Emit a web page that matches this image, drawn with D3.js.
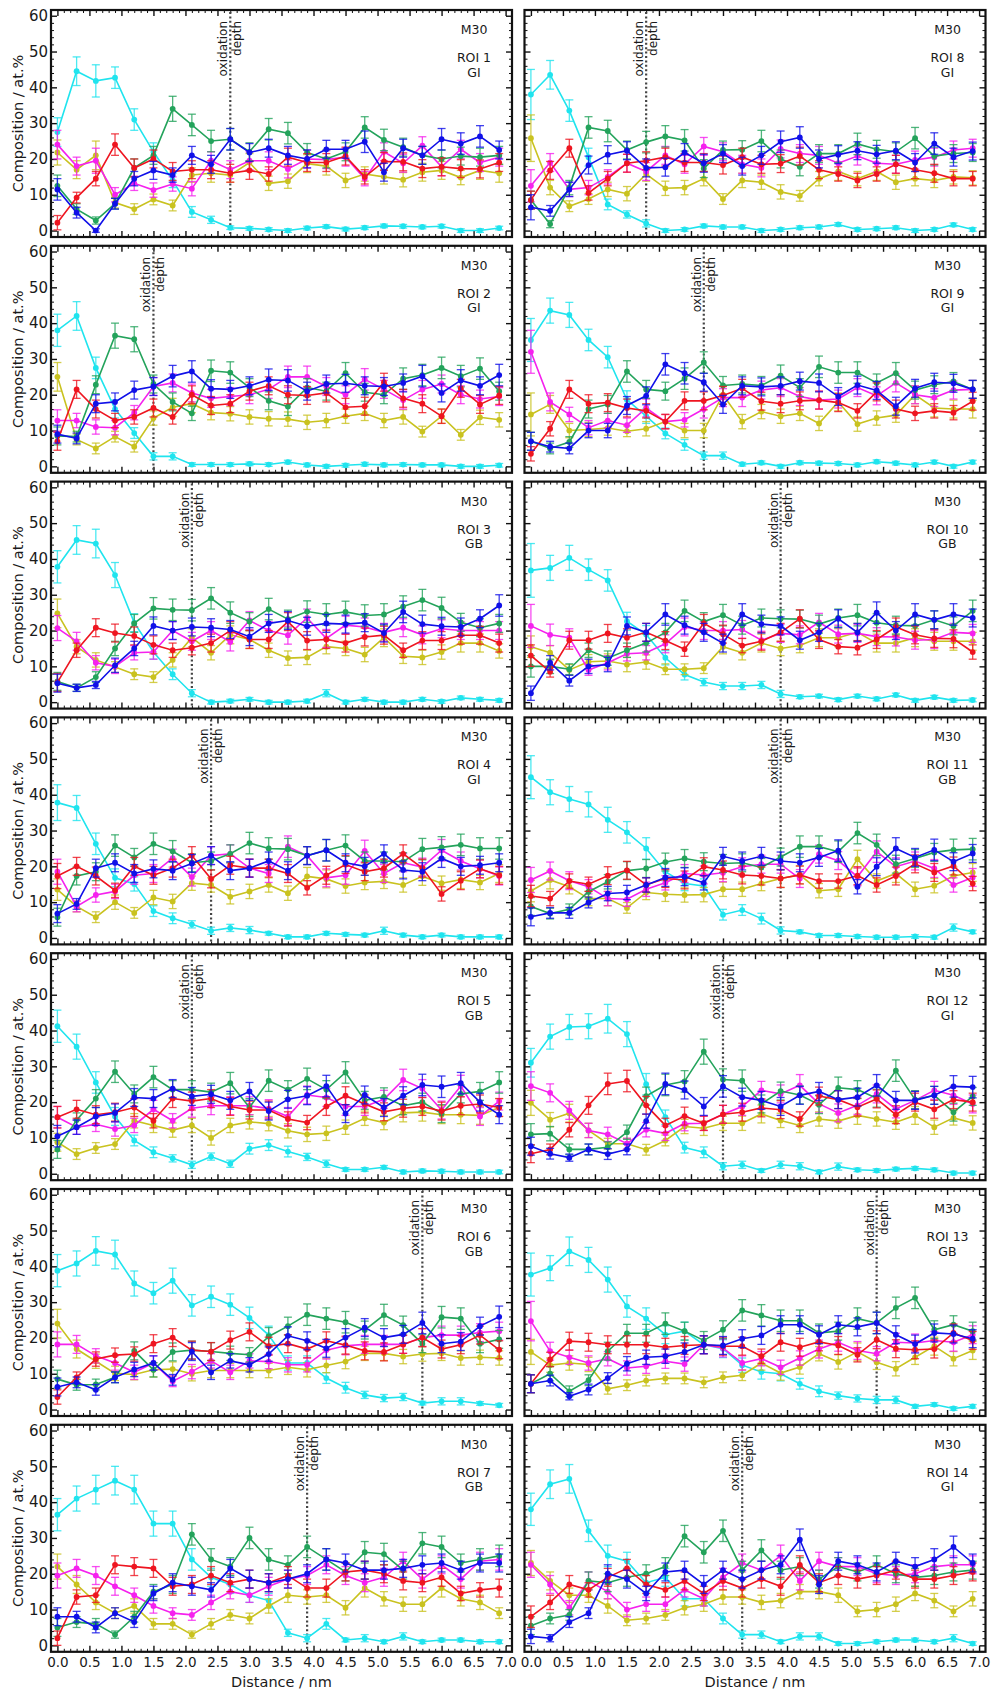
<!DOCTYPE html>
<html>
<head>
<meta charset="utf-8">
<script src="https://cdn.jsdelivr.net/npm/d3@7"></script>
<style>
  body { margin: 0; background: #fff; }
  svg { display: block; }
  text { font-family: "DejaVu Sans", sans-serif; fill: #1a1a1a; }
</style>
</head>
<body>
<svg id="chart" width="992" height="1693"></svg>
<script>
// Distance bins (nm) shared by every profile
const distance = [0,0.3,0.6,0.9,1.2,1.5,1.8,2.1,2.4,2.7,3.0,3.3,3.6,3.9,4.2,4.5,4.8,5.1,5.4,5.7,6.0,6.3,6.6,6.9];

const roiNames = ["ROI 1","ROI 2","ROI 3","ROI 4","ROI 5","ROI 6","ROI 7","ROI 8","ROI 9","ROI 10","ROI 11","ROI 12","ROI 13","ROI 14"];
const roiType = ["GI","GI","GB","GI","GB","GB","GB","GI","GI","GB","GB","GI","GB","GI"];
const sampleName = "M30";
const oxidationDepth = [2.7,1.5,2.1,2.4,2.1,5.7,3.9,1.8,2.7,3.9,3.9,3.0,5.4,3.3];

const xTicks = [0,0.5,1,1.5,2,2.5,3,3.5,4,4.5,5,5.5,6,6.5,7];
const yTicks = [0,10,20,30,40,50,60];

// Composition (at.%) per ROI, one row per ROI 1..14
const cyanPct = [
 [27.5,44.5,41.8,42.7,31,22,14,5.2,3,0.8,0.6,0.3,0,0.7,1.1,0.4,0.8,1.3,1.2,1,1.2,0,0,0.7],
 [38,42,27.5,16,9.3,2.8,2.8,0.5,0.5,0.5,0.7,0.5,1.2,0.4,0,0.3,0.6,0.4,0.5,0.4,0.4,0,0,0.3],
 [37.8,45.3,44.3,35.5,22.2,14,7.8,2.5,0,0.3,0.8,0,0,0.3,2.5,0,0.8,0,0,0.8,0.2,1.2,0.8,0.5],
 [37.8,36.3,26.3,16.8,15.1,7.5,5.5,3.8,2,2.8,2.2,1.3,0.3,0.3,1.3,1,0.8,2,0.8,0.3,0.8,0.3,0.3,0.3],
 [41.2,35.5,25.5,16,9.3,6,4.3,2.5,4.8,2.8,7,8,6.2,4.7,2.8,1.2,1.2,1.8,0.5,0.8,0.7,0.5,0.5,0.5],
 [38.8,40.8,44.3,43.3,35.2,32.5,36,29.1,31.5,29.3,25.6,20.8,13,13,8.8,6.1,4.1,3.2,3.5,1.8,2.3,2.3,1.7,1.2],
 [36.5,41,43.5,46,43.5,34,34,24,19,17,14,12.5,3.5,2,6,1.5,2,1,2.5,1,1.5,1.5,1,1],
 [38,43.5,33.5,20.5,7.3,4.5,2,0,0.3,1.3,1,1,0,0.3,0.8,1,1.7,0.3,0.5,0.8,0,0.3,1.6,0.3],
 [35.3,43.5,42.3,35.3,30.5,18.6,14,9.2,6,3,3,0.6,1,0,1,0.9,0.8,0.4,1.3,0.9,0.4,1.2,0,1.2],
 [36.8,37.5,40.3,37,34,22.6,18.9,12.4,7.7,5.6,4.5,4.5,4.8,2.3,1.5,1.7,0.7,1.7,0.9,2,0.5,1.4,0.5,0.6],
 [44.9,40.7,38.8,37.3,33,29.5,25,18.5,15.2,14.5,6.5,7.8,5.4,2.1,1.7,0.7,0.7,0.4,0.2,0.2,0.4,0.2,2.9,1.7],
 [31,38.3,41,41.2,43.3,39,25,15.8,7.3,6,2.1,2.5,0.9,2.5,2.1,0.5,2,1.1,0.9,1.3,1.5,1.1,0.2,0.2],
 [37.7,39.5,44.2,41.8,36.3,28.8,25.4,20.9,21.9,18.1,17,12.4,10.5,10,7.2,5.1,3.9,3.1,2.7,2.7,0.9,1.4,0.3,0.9],
 [38,45,46.5,32,25,23.5,17.5,19,13,13,7.5,3,3,1,2.5,2.5,0.5,0.5,1,1.5,1.5,1,2,0.5]
];
const greenPct = [
 [12.5,6,2.8,7.5,17.5,21,34,29.5,25,25.5,22,28.3,27.2,21.8,20,22,28.8,25.3,23.3,21,20,20.8,20.5,21],
 [8.5,8.3,22.8,36.5,35.5,23,18,14.8,26.7,26.2,22,18.3,16.7,22,21,26,20.7,20,24.5,25.5,27.5,25.2,27.3,21],
 [5.8,4,7,15,22,26.2,25.8,25.7,29,25,22.5,26,23.2,25.3,24.5,25.2,24.2,24.5,26.7,28.5,26.3,22.3,20.8,22],
 [5.8,17.3,18.5,25.8,22.5,26.3,24.2,21,21.5,23.5,26.5,25,24.8,23,24.5,25.8,21.5,21.5,21.3,24.8,25.3,26,25,25],
 [6.8,15,21,28.5,22.3,27,23.5,23.5,22.8,25.3,18.5,26,23.5,26.5,23.5,28.3,20.5,21.5,19,20,16.8,22.3,23,25.5],
 [8.5,6.9,7,9,16.4,11.1,16.1,16.6,16.2,15.7,15.3,20.4,23.3,26.5,25.4,24.4,22.2,26.4,23.6,18.4,25.8,25.4,18.4,19.6],
 [5,6.5,6,3,8,15,17,31,24,22,30,24,22.5,27.5,24,20.5,26,25.5,21,28.5,27.5,23,24,25],
 [8.5,1.8,12,28.8,27.8,22.5,24.7,26.3,25.2,17.3,22.5,22.6,25,20,17.8,21.5,21.5,24.2,22.7,22,25.8,20.8,21.5,21.8],
 [7,5,6.8,16,17.3,26.5,21.5,21,24.5,29,22.6,23,22.6,25.3,22,27.8,26.2,26.2,23.3,26,21.3,22.8,23.7,21.5],
 [10,10,9.2,14.5,12.3,14.5,16.5,19.5,25.5,22.5,24.3,21.5,23.5,23.3,23.2,21.8,23.5,24.3,22.2,21.5,21.3,23,21.3,25.5],
 [8.8,6.8,8,12.9,15.7,18.8,19.4,21.2,22.2,21.3,20.8,21,19.7,22.6,25.5,25.5,24.1,29.3,26,20.6,22.2,23.9,24.6,24.8],
 [11,11.2,6.8,6.8,7.4,11.6,21.7,24.8,25.8,34.1,26.3,26,19.5,23.1,22,19.3,24,23.5,21.1,28.8,20.7,21.9,17.2,21.6],
 [7.2,10,5.1,8.2,16.3,21.3,21.3,24,21.9,19.3,22.3,27.7,26.3,24.8,24.8,21.4,21.9,25.4,24.2,28.4,31.2,22.3,23.7,21.9],
 [5.5,7.5,8.5,18,17.5,19,20,22,30.5,26,32,21,26.5,21,22,18.5,22,20.5,22.5,20,19,19.5,20.5,21]
];
const bluePct = [
 [11.5,5,0,7.5,14.5,16.8,15.5,21,18.5,25.5,21.8,23,21,20,22.7,22.7,24.8,16.3,23,21,25.5,24.3,26.3,22.5],
 [9,7.8,17.5,18,21.3,22.3,25.2,26.5,21.7,21.5,22.5,24.2,24,21,23,23.2,22.5,22.3,23.3,25.2,20.5,24,22.5,25.5],
 [5.3,4,4.8,10.3,15,21.3,20,21,20.8,20.3,18.3,22,22.8,21.2,22,21.8,22.2,19.3,25.2,21.8,21.2,21,23.3,27],
 [6.8,9.5,19.5,21,18,19.3,18.8,20.8,23,18.8,19.5,21.5,18.8,23,24.5,21,20,23.5,19,18.5,22.2,20,20.3,21],
 [10.5,13,16,17,21.3,21,23.8,21.6,22.2,20.5,23,17.5,20.8,21.8,24.5,16.8,22,18.5,21.8,24.8,24.3,25.3,20,16.5],
 [6.3,7.6,5.5,9,11.2,13,8.3,16.2,10.4,13.6,12.5,15.5,20.6,19.2,17.1,20.1,22.9,20.1,21,24.2,18.4,19,23.3,25.9],
 [8,8,5,9,6.5,14.5,17.5,16.5,15.5,21.5,18.5,17.5,18.5,20,24,23,21,21,21.5,22.5,23,21,23,23],
 [6.5,5.5,11.5,18.3,21.2,22.3,17.5,17.7,21.8,18.8,21.5,18,21,24.8,26,20,21.2,22.3,21.3,22.3,19,24.3,20.5,22.2],
 [7,5.5,5,10,10,17,19.7,28.5,26,23.5,17.3,22.5,22.2,22.5,23.8,23.3,19.5,22.7,21.2,16.8,21.8,23.5,23.2,21.5],
 [2.5,11,6,10,10.5,21.3,19.5,24.5,21.5,19.5,16.5,24.5,21.8,21.3,17.3,19.5,23.3,19.5,25,20,24.5,23,24.5,23.5],
 [5.9,7,7,9.9,12.4,12.7,14.8,16.9,17.1,15.4,22.8,21.5,22.8,21.5,21,22.5,24.4,14.3,19.9,25,22.5,24.6,21.3,23.6],
 [7.7,5.6,4.5,6.8,5.5,6.8,14.7,25.1,23.4,18.8,24.4,21.4,20.5,18.8,21.9,23,20.7,21.4,24.7,20.5,20.5,21.9,24.4,24.2],
 [7.2,8.1,3.7,5.6,8.8,12.8,14.6,14.9,16.1,18.1,17.9,19.8,20.7,23.7,23.7,20.9,23.7,23.1,24.2,20.9,18.3,21.4,21.1,19.8],
 [2.5,2,6.5,9,20,18.5,14.5,20.5,21,17,21,18.5,21,22.5,29.5,17,23.5,22.5,20.5,23.5,22,24,27.5,23]
];
const redPct = [
 [2.2,9.2,14.5,24,17.5,20,16.5,17,17,16,16.8,15.8,20.5,19,19,20.8,15,19.3,19.2,17.3,17.8,17.3,17.2,19],
 [7,21.5,16,12.8,13.8,16.3,13.8,20,17,17.5,21,22.5,20,19.8,20.5,16.5,16.8,23.5,19,17.5,14,21.8,17.3,19.8],
 [5.5,14.5,20.8,19.3,18.5,16,14.5,15.2,16.5,20,17.5,17.5,22.5,17.2,17.5,16.5,18.2,18.7,14.5,17.2,17.2,18.7,18.7,16.5],
 [17.3,20,17.3,13.3,20,17.5,19.5,23,16.5,20.3,19.5,19.5,18,14,17.5,20.5,18.5,19.5,23.5,19.5,12.3,16,19.3,17.5],
 [15.8,18,16.5,17.2,18.5,14.8,21,20.3,21,18.8,17.8,17.8,15.3,14.3,18.8,21.8,19.5,17.3,18.3,18.8,17.5,19,19.5,18.5],
 [3.5,9,14.1,15.2,15.5,18.4,20.1,16.6,16.2,19.4,21.7,17.7,18.4,16.9,19.2,18,16.4,16.1,18.2,20.1,16.9,18.1,20.8,16.7],
 [2,13.5,14,22.5,22,21.5,16.5,17,19.5,17.5,18.5,17.5,19.5,16,16,20.5,21,20,18,17.5,19,14.5,15.5,16],
 [8.5,16.8,23,10.5,14.5,18.8,19.5,20.5,19,19,18.3,20.5,18.5,18.7,20.8,17,15.8,14,15.8,18.5,17,16,14.5,14.5],
 [3.5,10.5,21.5,17.5,17.8,16.3,15.5,12.5,18.3,18.3,19.8,21.8,18.2,17.5,18.3,18.5,17.8,15.5,20.8,16,14.8,15.5,15,18.2],
 [13,8.5,17.3,17.3,19.2,18,19.5,17.2,14.8,22,19,15.8,17,19.5,23.3,17.5,15.5,15.2,17.5,21,18.8,17.8,17.7,14],
 [11.7,11,15.9,15,17.4,18.9,14.8,16.6,16.2,19.9,19,17.6,17.3,16.6,17.6,15.9,15.9,17.4,14.8,17.3,20.7,18.3,20.1,15.2],
 [5.6,6.8,12.3,19.1,25.1,25.9,19.1,13.5,16.1,14.1,16.6,17.2,18.4,17.9,15.3,21.7,20.7,18.6,20.9,16.5,20,18,20.7,20],
 [7.2,14,19.1,18.8,18.1,18.1,18.1,17.4,17.9,18.1,17.7,17.7,14.9,18.8,17.4,18.9,17.9,15.3,19.5,17,16.7,16.9,21.4,19.3],
 [8,12,17,15.5,19,21.5,17,15.5,18,14.5,18,16,18.5,16.5,22.5,17.5,19.5,18.5,19.5,21,18.5,18.5,19.5,20.5]
];
const magentaPct = [
 [24,18,19.5,10,13.2,11.3,13,11.7,19.5,17,19.5,19.5,17.2,20,19.8,20.5,14.5,22,18.8,23.7,17.8,22.7,19,20.5],
 [12.8,12.8,11,10.8,15,22.3,23.3,20.5,19,19.5,20,21.5,25,25,22.3,20,24.3,21.5,18.5,21.5,23,20,18.8,19.5],
 [20.7,17,11,10,13.8,14,20,17,20,16.8,22.8,20,18.7,23.5,17.8,21.5,21,19.5,20.8,18.8,20.5,20,20,20],
 [18.5,8.8,12,13,17.5,18,22.3,17,23,23.5,19.5,18,25.5,23,16.8,17.5,24.3,18,21,19.8,24.5,21.5,19.3,17.3],
 [15.8,13,13.8,12.5,13.5,18,14.8,18.3,19,19,19,18.2,16,22,21.3,18.8,18.8,20.8,26.2,23.8,17.8,24.5,16,20.3],
 [18.2,18.2,15,13,10.4,13,7.9,10.6,13.6,10.4,13.6,13.4,12.5,12.5,16.6,17.8,18.2,18.2,18.2,20.1,20.8,20.8,21.5,21.9],
 [19.5,21.5,19.5,16.5,14,11,9,8.5,12,15,14,16.5,18.5,19.5,22.5,19.5,17.5,19,23.5,18.5,22.5,18.5,23.5,24],
 [12.5,19,11.5,12,15,18.8,16.5,21,18.5,23.5,22,18.5,17.5,22.8,21.5,21,18.8,20.8,18.8,18.5,19.7,20.5,22.5,23],
 [32,18,14.5,10.8,12.8,11.5,16.3,12.5,13,16,19.2,19.2,21.3,22,19.5,18.5,18.8,22,19.7,23.3,20,19.2,21.3,21.5],
 [21.3,18.8,18,9,11,13.5,13.8,16.3,21,20,20,20.3,17.3,19.2,18.8,22.3,19,19.2,18.3,18.2,17.3,17.5,19.5,19.2],
 [16.2,18.7,16,14.3,11,10.8,13.6,15.4,18,17.6,18.2,19.9,20.6,20.6,16.6,23.4,21.6,17.1,24.1,19.9,21.5,19.4,14.8,16.9],
 [24.5,22.6,17.7,12.1,11,8.4,12.3,11.3,14,14.1,16.6,18.8,23.3,22.3,24.7,19.5,17,19.1,22.3,18.1,20.5,23.3,21.9,19.5],
 [24.7,16.3,14.6,13,14.2,11.6,12.1,13.5,12.7,18.1,17.2,13,14.2,11.8,14.4,16.9,18.8,16.5,15.6,18.8,18.6,19.3,18.8,20.9],
 [22.5,17,10.5,18,15,10,11.5,11.5,15.5,13,19,23,21,25,18,23.5,22,22,20,19.5,20,22,22.5,22.5]
];
const yellowPct = [
 [21.8,17,21,7.8,6,8.7,7,15.5,16,15.5,19,13.2,13.8,18.7,18,14,15.8,15,14.2,16.3,16.8,14.8,16.8,16],
 [25,7.5,5,8.3,5.5,13.5,16.5,17.5,15,14.7,13.8,13.3,13.2,12.3,12.8,14,14.8,12.8,13.8,9.7,14,8.8,13.7,13],
 [24.8,15.5,11.8,9.8,7.8,7,11.8,18,13.8,18.8,17.5,14.5,12.3,12.5,15.5,15,13.3,18,12.8,12.5,14,16.5,16.5,14.3],
 [13.5,8.8,5.8,10,7,11.3,10.2,15.3,14.8,11.5,13,14.8,12.5,17.2,16.5,14.5,15.5,15.8,14.8,17.2,15.3,16.3,15.5,18],
 [8.8,5.5,7.2,8.3,14.8,13.5,12.2,13.5,10,13.5,14.5,14,12,11,11.3,13,15.5,14.3,17,17.2,16.5,16.5,16.3,18.5],
 [24,16.9,13.5,10.1,9.8,11.1,11.3,10,10.9,10.9,10.9,10.9,11.8,11.1,12.3,13.4,15.7,15.7,14.8,15.5,15.7,14.4,14.6,14.4],
 [22,17,12,9,11,6,6,3,6,8.5,7.5,11,14,13.5,14,10.5,16,13,11.5,11.5,16,13,12,9],
 [25.8,12,6.8,8.8,11.5,10.3,15.8,11.8,12,14.5,8.8,14,13.5,10.8,9.7,14.5,16.5,14.5,16.5,13.5,14.5,14,15,14.7],
 [14.5,17.3,10,10.3,10.7,9.8,10.5,12.5,10,10,20,12.5,15.3,14,14.8,12,18,11.8,13.5,14.3,20,16.3,16,16],
 [15.5,13.8,9,11.3,11.5,10.5,11.2,9.2,9.2,9.5,15.5,13.8,16.5,15,15.8,18,18,19.5,16.5,16.5,18,17,17,17],
 [13.1,16.2,14.3,11,11,8.4,12.7,12.2,12,12.1,13.6,13.6,15.2,16.6,17.6,13.2,13.6,22,15.9,18,13.6,14.6,17.3,18.3],
 [19.8,15.1,16.9,12.1,8.4,8.4,6.7,9.3,13.2,12.7,14.1,14.1,16.7,14.9,13.5,15.3,14.7,16.3,15.3,14.4,16.3,13,15.6,14.2],
 [16.1,12.4,13,12.6,5.8,6.8,8.1,8.7,8.7,7.6,9,9.6,13,10.2,11.9,15.6,13.3,16.1,13.2,11.4,14.6,17.7,14.2,16.5],
 [23,18,14,14,11,7,7.5,8.5,10.5,11.5,13.5,13.5,12,12.5,15,15,14,9.5,10,11.5,14.5,12.5,9.5,13]
];

// Error-bar half widths (at.%), same layout as above
const cyanErr = [
 [4,4,4.5,3,3,2.5,2,1.5,1,.5,.5,.5,.5,.5,.5,.5,.5,.5,.5,.5,.5,.5,.5,.5],
 [4.5,4,3,2.5,1.5,1,1,.5,.5,.5,.5,.5,.5,.5,.5,.5,.5,.5,.5,.5,.5,.5,.5,.5],
 [4.5,4,4,3.5,2.5,2,1.5,1,.5,.5,.5,.5,.5,.5,1,.5,.5,.5,.5,.5,.5,.5,.5,.5],
 [5,3.5,3,2.5,2,1.5,1.5,1,1,1,1,.5,.5,.5,.5,.5,.5,1,.5,.5,.5,.5,.5,.5],
 [4.5,3.5,3,2.5,1.5,1.5,1,1,1,1,1.5,1.5,1.5,1,1,.5,.5,.5,.5,.5,.5,.5,.5,.5],
 [4.5,3.5,4,4,3.5,3,3.5,3,3,3,3,2.5,2,2,1.5,1.5,1,1,1,.5,1,1,.5,.5],
 [4.5,3.5,4,4,4,3.5,3.5,3,2.5,2.5,2,2,1,1,1.5,.5,1,.5,1,.5,.5,.5,.5,.5],
 [7,4,3,2.5,1.5,1,1,.5,.5,.5,.5,.5,.5,.5,.5,.5,.5,.5,.5,.5,.5,.5,.5,.5],
 [6,3.5,3.5,3,3,2.5,2,1.5,1.5,1,1,.5,.5,.5,.5,.5,.5,.5,.5,.5,.5,.5,.5,.5],
 [7.5,3.5,3.5,3,3,2.5,2.5,2,1.5,1,1,1,1,1,.5,.5,.5,.5,.5,.5,.5,.5,.5,.5],
 [6,3.5,3.5,3.5,3.5,3,3,2.5,2,2,1.5,1.5,1.5,1,.5,.5,.5,.5,.5,.5,.5,.5,1,.5],
 [4,3.5,3.5,3.5,4,3.5,3,2,1.5,1.5,1,1,.5,1,1,.5,1,.5,.5,.5,.5,.5,.5,.5],
 [6,3.5,4,3.5,3.5,3,3,2.5,2.5,2.5,2.5,2,2,2,1.5,1.5,1,1,1,1,.5,.5,.5,.5],
 [4.5,4,4,3,3,2.5,2.5,2.5,2,2,1.5,1,1,.5,1,1,.5,.5,.5,.5,.5,.5,1,.5]
];
const greenErr = [
 [3,1.5,1,1.5,2.5,2.5,3.5,3,3,3,2.5,3,3,2.5,2.5,2.5,3,3,2.5,2.5,2.5,2.5,2.5,2.5],
 [2.5,1.5,2.5,3.5,3.5,2.5,2.5,2,3,3,2.5,2.5,2.5,2.5,2.5,3,2.5,2.5,3,3,3,3,3,2.5],
 [2.5,1,1.5,2,2.5,3,3,3,3,3,2.5,3,2.5,3,3,3,3,3,3,3,3,2.5,2.5,2.5],
 [2.5,2.5,2.5,3,2.5,3,3,2.5,2.5,2.5,3,3,3,2.5,3,3,2.5,2.5,2.5,3,3,3,3,3],
 [2.5,2,2.5,3,2.5,3,2.5,2.5,2.5,3,2.5,3,2.5,3,2.5,3,2.5,2.5,2.5,2.5,2.5,2.5,2.5,3],
 [2.5,1.5,1.5,1.5,2.5,2,2.5,2.5,2.5,2,2,2.5,2.5,3,3,3,2.5,3,2.5,2.5,3,3,2.5,2.5],
 [2.5,1.5,1.5,1,1.5,2,2.5,3,3,2.5,3,3,2.5,3,3,2.5,3,3,2.5,3,3,2.5,3,3],
 [2.5,1,2,3,3,2.5,3,3,3,2.5,2.5,2.5,3,2.5,2.5,2.5,2.5,3,2.5,2.5,3,2.5,2.5,2.5],
 [2.5,1.5,1.5,2.5,2.5,3,2.5,2.5,3,3,2.5,2.5,2.5,3,2.5,3,3,3,2.5,3,2.5,2.5,2.5,2.5],
 [3,2,1.5,2,2,2,2.5,2.5,3,2.5,3,2.5,2.5,2.5,2.5,2.5,2.5,3,2.5,2.5,2.5,2.5,2.5,3],
 [2.5,1.5,1.5,2,2,2.5,2.5,2.5,2.5,2.5,2.5,2.5,2.5,2.5,3,3,3,3,3,2.5,2.5,2.5,3,3],
 [3,2,1.5,1.5,1.5,2,2.5,3,3,3.5,3,3,2.5,2.5,2.5,2.5,3,2.5,2.5,3,2.5,2.5,2.5,2.5],
 [2.5,2,1.5,1.5,2.5,2.5,2.5,3,2.5,2.5,2.5,3,3,3,3,2.5,2.5,3,3,3,3,2.5,2.5,2.5],
 [2.5,1.5,1.5,2.5,2.5,2.5,2.5,2.5,3,3,3,2.5,3,2.5,2.5,2.5,2.5,2.5,2.5,2.5,2.5,2.5,2.5,2.5]
];
const blueErr = [
 [3,1.5,.5,1.5,2,2.5,2,2.5,2.5,3,2.5,2.5,2.5,2.5,2.5,2.5,3,2.5,2.5,2.5,3,3,3,2.5],
 [2.5,1.5,2.5,2.5,2.5,2.5,3,3,2.5,2.5,2.5,3,3,2.5,2.5,2.5,2.5,2.5,2.5,3,2.5,3,2.5,3],
 [2.5,1,1,2,2,2.5,2.5,2.5,2.5,2.5,2.5,2.5,2.5,2.5,2.5,2.5,2.5,2.5,3,2.5,2.5,2.5,2.5,3],
 [2.5,1.5,2.5,2.5,2.5,2.5,2.5,2.5,2.5,2.5,2.5,2.5,2.5,2.5,3,2.5,2.5,2.5,2.5,2.5,2.5,2.5,2.5,2.5],
 [3,2,2.5,2.5,2.5,2.5,2.5,2.5,2.5,2.5,2.5,2.5,2.5,2.5,3,2.5,2.5,2.5,2.5,3,3,3,2.5,2.5],
 [2.5,1.5,1.5,1.5,2,2,1.5,2.5,2,2,2,2,2.5,2.5,2.5,2.5,2.5,2.5,2.5,3,2.5,2.5,2.5,3],
 [2.5,1.5,1.5,1.5,1.5,2,2.5,2.5,2,2.5,2.5,2.5,2.5,2.5,3,2.5,2.5,2.5,2.5,2.5,2.5,2.5,2.5,2.5],
 [3.5,1.5,2,2.5,2.5,2.5,2.5,2.5,2.5,2.5,2.5,2.5,2.5,3,3,2.5,2.5,2.5,2.5,2.5,2.5,3,2.5,2.5],
 [2.5,1.5,1.5,2,2,2.5,2.5,3,3,2.5,2.5,2.5,2.5,2.5,2.5,2.5,2.5,2.5,2.5,2.5,2.5,2.5,2.5,2.5],
 [2,2,1.5,2,2,2.5,2.5,3,2.5,2.5,2.5,3,2.5,2.5,2.5,2.5,2.5,2.5,3,2.5,3,2.5,3,2.5],
 [2.5,1.5,1.5,1.5,2,2,2,2.5,2.5,2,2.5,2.5,2.5,2.5,2.5,2.5,3,2,2.5,3,2.5,3,2.5,2.5],
 [2.5,1.5,1,1.5,1.5,1.5,2,3,2.5,2.5,3,2.5,2.5,2.5,2.5,2.5,2.5,2.5,3,2.5,2.5,2.5,3,3],
 [2.5,1.5,1,1.5,1.5,2,2,2,2.5,2.5,2.5,2.5,2.5,2.5,2.5,2.5,2.5,2.5,3,2.5,2.5,2.5,2.5,2.5],
 [2,1,1.5,1.5,2.5,2.5,2,2.5,2.5,2.5,2.5,2.5,2.5,2.5,3,2.5,2.5,2.5,2.5,2.5,2.5,3,3,2.5]
];
const redErr = [
 [2,1.5,2,3,2.5,2.5,2.5,2.5,2.5,2.5,2.5,2,2.5,2.5,2.5,2.5,2,2.5,2.5,2.5,2.5,2.5,2.5,2.5],
 [2.5,2.5,2.5,2,2,2.5,2,2.5,2.5,2.5,2.5,2.5,2.5,2.5,2.5,2.5,2.5,2.5,2.5,2.5,2,2.5,2.5,2.5],
 [2.5,2,2.5,2.5,2.5,2.5,2,2,2.5,2.5,2.5,2.5,2.5,2.5,2.5,2.5,2.5,2.5,2,2.5,2.5,2.5,2.5,2.5],
 [3.5,2.5,2.5,2,2.5,2.5,2.5,2.5,2.5,2.5,2.5,2.5,2.5,2,2.5,2.5,2.5,2.5,2.5,2.5,2,2.5,2.5,2.5],
 [3,2.5,2.5,2.5,2.5,2,2.5,2.5,2.5,2.5,2.5,2.5,2,2,2.5,2.5,2.5,2.5,2.5,2.5,2.5,2.5,2.5,2.5],
 [2,1.5,2,2,2,2.5,2.5,2.5,2.5,2.5,2.5,2.5,2.5,2.5,2.5,2.5,2.5,2.5,2.5,2.5,2.5,2.5,2.5,2.5],
 [2,2,2,2.5,2.5,2.5,2.5,2.5,2.5,2.5,2.5,2.5,2.5,2.5,2.5,2.5,2.5,2.5,2.5,2.5,2.5,2,2,2.5],
 [2.5,2.5,2.5,2,2,2.5,2.5,2.5,2.5,2.5,2.5,2.5,2.5,2.5,2.5,2.5,2,2,2,2.5,2.5,2.5,2,2],
 [2,2,2.5,2.5,2.5,2.5,2,2,2.5,2.5,2.5,2.5,2.5,2.5,2.5,2.5,2.5,2,2.5,2.5,2,2,2,2.5],
 [3,1.5,2.5,2.5,2.5,2.5,2.5,2.5,2,2.5,2.5,2,2.5,2.5,2.5,2.5,2,2,2.5,2.5,2.5,2.5,2.5,2],
 [3,2,2,2,2.5,2.5,2,2.5,2.5,2.5,2.5,2.5,2.5,2.5,2.5,2,2,2.5,2,2.5,2.5,2.5,2.5,2],
 [2.5,1.5,2,2.5,3,3,2.5,2,2.5,2,2.5,2.5,2.5,2.5,2,2.5,2.5,2.5,2.5,2.5,2.5,2.5,2.5,2.5],
 [2.5,2,2.5,2.5,2.5,2.5,2.5,2.5,2.5,2.5,2.5,2.5,2,2.5,2.5,2.5,2.5,2,2.5,2.5,2.5,2.5,2.5,2.5],
 [3,2,2.5,2,2.5,2.5,2.5,2,2.5,2,2.5,2.5,2.5,2.5,2.5,2.5,2.5,2.5,2.5,2.5,2.5,2.5,2.5,2.5]
];
const magentaErr = [
 [4,2.5,3.5,2,2,2,2,2,2.5,2.5,2.5,2.5,2.5,2.5,2.5,2.5,2,2.5,2.5,2.5,2.5,2.5,2.5,2.5],
 [3,2,2,2,2,2.5,2.5,2.5,2.5,2.5,2.5,2.5,3,3,2.5,2.5,3,2.5,2.5,2.5,2.5,2.5,2.5,2.5],
 [3.5,2.5,2,2,2,2,2.5,2.5,2.5,2.5,2.5,2.5,2.5,2.5,2.5,2.5,2.5,2.5,2.5,2.5,2.5,2.5,2.5,2.5],
 [3.5,1.5,2,2,2.5,2.5,2.5,2.5,2.5,2.5,2.5,2.5,3,2.5,2.5,2.5,3,2.5,2.5,2.5,3,2.5,2.5,2.5],
 [3,2,2,2,2,2.5,2,2.5,2.5,2.5,2.5,2.5,2.5,2.5,2.5,2.5,2.5,2.5,3,2.5,2.5,3,2.5,2.5],
 [3.5,2.5,2,2,2,2,1.5,2,2,2,2,2,2,2,2.5,2.5,2.5,2.5,2.5,2.5,2.5,2.5,2.5,2.5],
 [3.5,2.5,2.5,2.5,2,2,1.5,1.5,2,2,2,2.5,2.5,2.5,2.5,2.5,2.5,2.5,2.5,2.5,2.5,2.5,2.5,3],
 [4.5,2.5,2,2,2,2.5,2.5,2.5,2.5,2.5,2.5,2.5,2.5,2.5,2.5,2.5,2.5,2.5,2.5,2.5,2.5,2.5,2.5,2.5],
 [6,2.5,2,2,2,2,2.5,2,2,2.5,2.5,2.5,2.5,2.5,2.5,2.5,2.5,2.5,2.5,2.5,2.5,2.5,2.5,2.5],
 [6,3,2.5,1.5,2,2,2,2.5,2.5,2.5,2.5,2.5,2.5,2.5,2.5,2.5,2.5,2.5,2.5,2.5,2.5,2.5,2.5,2.5],
 [3.5,2.5,2.5,2,2,2,2,2,2.5,2.5,2.5,2.5,2.5,2.5,2.5,2.5,2.5,2.5,3,2.5,2.5,2.5,2,2.5],
 [4,2.5,2.5,2,2,1.5,2,2,2,2,2.5,2.5,2.5,2.5,3,2.5,2.5,2.5,2.5,2.5,2.5,2.5,2.5,2.5],
 [5.5,2.5,2,2,2,2,2,2,2,2.5,2.5,2,2,2,2,2.5,2.5,2.5,2,2.5,2.5,2.5,2.5,2.5],
 [3.5,2.5,2,2.5,2,2,2,2,2,2,2.5,2.5,2.5,3,2.5,2.5,2.5,2.5,2.5,2.5,2.5,2.5,2.5,2.5]
];
const yellowErr = [
 [3.5,2.5,4,1.5,1.5,1.5,1.5,2,2.5,2,2.5,2,2,2.5,2.5,2,2,2,2,2.5,2.5,2,2.5,2.5],
 [4,1.5,1.5,1.5,1.5,2,2.5,2.5,2,2,2,2,2,2,2,2,2,2,2,1.5,2,1.5,2,2],
 [4,2,2,1.5,1.5,1.5,2,2.5,2,2.5,2.5,2,2,2,2,2,2,2.5,2,2,2,2.5,2.5,2],
 [3,1.5,1.5,2,1.5,2,2,2,2,2,2,2,2,2.5,2.5,2,2,2,2,2.5,2,2.5,2,2.5],
 [2.5,1.5,1.5,1.5,2,2,2,2,2,2,2,2,2,2,2,2,2,2,2.5,2.5,2.5,2.5,2.5,2.5],
 [4,2.5,2,2,1.5,2,2,2,2,2,2,2,2,2,2,2,2,2,2,2,2,2,2,2],
 [3.5,2.5,2,1.5,2,1.5,1.5,1,1.5,1.5,1.5,2,2,2,2,2,2.5,2,2,2,2.5,2,2,1.5],
 [6.5,2,1.5,1.5,2,2,2,2,2,2,1.5,2,2,2,1.5,2,2.5,2,2.5,2,2,2,2,2],
 [6,2.5,2,2,2,1.5,2,2,2,2,2.5,2,2,2,2,2,2.5,2,2,2,2.5,2.5,2.5,2.5],
 [3,2,1.5,2,2,2,2,1.5,1.5,1.5,2,2,2.5,2,2,2.5,2.5,2.5,2.5,2.5,2.5,2.5,2.5,2.5],
 [3,2.5,2,2,2,1.5,2,2,2,2,2,2,2,2.5,2.5,2,2,2.5,2,2.5,2,2,2.5,2.5],
 [3.5,2,2.5,2,1.5,1.5,1.5,1.5,2,2,2,2,2.5,2,2,2,2,2.5,2,2,2.5,2,2,2],
 [3.5,2,2,2,1.5,1.5,1.5,1.5,1.5,1.5,1.5,1.5,2,2,2,2,2,2.5,2,2,2,2.5,2,2.5],
 [3.5,2.5,2,2,2,1.5,1.5,1.5,2,2,2,2,2,2,2,2,2,1.5,2,2,2,2,1.5,2]
];

// Element profiles drawn in each panel, back to front
const series = [
  { values: cyanPct,    errors: cyanErr,    color: "#1fe4ee" },
  { values: yellowPct,  errors: yellowErr,  color: "#c9c21f" },
  { values: magentaPct, errors: magentaErr, color: "#f521ee" },
  { values: greenPct,   errors: greenErr,   color: "#23a35b" },
  { values: redPct,     errors: redErr,     color: "#ee1520" },
  { values: bluePct,    errors: blueErr,    color: "#1010e8" }
];

const svg = d3.select("#chart");
const panelW = 461, panelH = 227;
const colLeft = [51, 524.5];
const rowTop = r => 10 + r * 235.8;

const x = d3.scaleLinear().domain([-0.1, 7.1]).range([0, panelW]);
const y = d3.scaleLinear().domain([-1.8, 61.6]).range([panelH, 0]);

const minorX = d3.range(1, 70).map(i => i / 10).filter(v => Math.round(v * 10) % 5 !== 0);
const minorY = d3.range(2, 61, 2).filter(v => v % 10 !== 0);

function styleAxis(sel, width) {
  sel.select(".domain").remove();
  sel.selectAll(".tick line").attr("stroke", "#111").attr("stroke-width", width);
}

roiNames.forEach((name, k) => {
  const col = k < 7 ? 0 : 1;
  const row = k % 7;
  const left = colLeft[col];
  const top = rowTop(row);
  const g = svg.append("g").attr("transform", `translate(${left},${top})`);
  const isBottom = row === 6;
  const isLeft = col === 0;

  // Ticks on all four sides, pointing inward
  const bx = g.append("g").attr("transform", `translate(0,${panelH})`)
    .call(d3.axisBottom(x).tickValues(xTicks).tickSize(-6).tickPadding(6)
      .tickFormat(isBottom ? d3.format(".1f") : () => ""));
  styleAxis(bx, 1.4);
  bx.selectAll("text").attr("font-size", 13.5).attr("font-family", "DejaVu Sans").attr("fill", "#1a1a1a");
  styleAxis(g.append("g").attr("transform", `translate(0,${panelH})`)
    .call(d3.axisBottom(x).tickValues(minorX).tickSize(-3).tickFormat(() => "")), 1);
  styleAxis(g.append("g").call(d3.axisTop(x).tickValues(xTicks).tickSize(-6).tickFormat(() => "")), 1.4);
  styleAxis(g.append("g").call(d3.axisTop(x).tickValues(minorX).tickSize(-3).tickFormat(() => "")), 1);

  const ly = g.append("g")
    .call(d3.axisLeft(y).tickValues(yTicks).tickSize(-6).tickPadding(3)
      .tickFormat(isLeft ? d3.format("d") : () => ""));
  styleAxis(ly, 1.4);
  ly.selectAll("text").attr("font-size", 15).attr("font-family", "DejaVu Sans").attr("fill", "#1a1a1a");
  styleAxis(g.append("g").call(d3.axisLeft(y).tickValues(minorY).tickSize(-3).tickFormat(() => "")), 1);
  styleAxis(g.append("g").attr("transform", `translate(${panelW},0)`)
    .call(d3.axisRight(y).tickValues(yTicks).tickSize(-6).tickFormat(() => "")), 1.4);
  styleAxis(g.append("g").attr("transform", `translate(${panelW},0)`)
    .call(d3.axisRight(y).tickValues(minorY).tickSize(-3).tickFormat(() => "")), 1);

  // Oxidation depth marker
  const xd = x(oxidationDepth[k]);
  g.append("line")
    .attr("x1", xd).attr("x2", xd).attr("y1", 2).attr("y2", panelH)
    .attr("stroke", "#444").attr("stroke-width", 2.2).attr("stroke-dasharray", "2,2.4");
  [["oxidation", -7], ["depth", 7]].forEach(([t, dx]) => {
    g.append("text")
      .attr("transform", `translate(${xd + dx},${11}) rotate(-90)`)
      .attr("text-anchor", "end").attr("dominant-baseline", "central")
      .attr("font-size", 12).text(t);
  });

  // Profiles: error bars, connecting line, markers
  const line = d3.line().x((d, i) => x(distance[i])).y(d => y(d));
  series.forEach(s => {
    const vals = s.values[k], errs = s.errors[k];
    const sg = g.append("g");
    const eb = sg.append("g").attr("stroke", s.color).attr("stroke-opacity", 0.8).attr("stroke-width", 1.3);
    vals.forEach((v, i) => {
      const cx = x(distance[i]);
      const y1 = y(v - errs[i]), y2 = y(v + errs[i]);
      eb.append("line").attr("x1", cx).attr("x2", cx).attr("y1", y1).attr("y2", y2);
      eb.append("line").attr("x1", cx - 4).attr("x2", cx + 4).attr("y1", y1).attr("y2", y1);
      eb.append("line").attr("x1", cx - 4).attr("x2", cx + 4).attr("y1", y2).attr("y2", y2);
    });
    sg.append("path").datum(vals).attr("d", line)
      .attr("fill", "none").attr("stroke", s.color).attr("stroke-width", 1.6);
    sg.selectAll("circle").data(vals).join("circle")
      .attr("cx", (d, i) => x(distance[i])).attr("cy", d => y(d))
      .attr("r", 2.9).attr("fill", s.color);
  });

  // Frame
  g.append("rect").attr("width", panelW).attr("height", panelH)
    .attr("fill", "none").attr("stroke", "#111").attr("stroke-width", 2.2);

  // Sample / ROI labels
  const tx = panelW - 38;
  [[sampleName, 19.5], [name, 47.5], [roiType[k], 62]].forEach(([t, ty]) => {
    g.append("text").attr("x", tx).attr("y", ty)
      .attr("text-anchor", "middle").attr("dominant-baseline", "central")
      .attr("font-size", 12.5).text(t);
  });

  if (isLeft) {
    svg.append("text")
      .attr("transform", `translate(18,${top + panelH / 2}) rotate(-90)`)
      .attr("text-anchor", "middle").attr("dominant-baseline", "central")
      .attr("font-size", 14.5).text("Composition / at.%");
  }
  if (isBottom) {
    svg.append("text")
      .attr("x", left + panelW / 2).attr("y", 1682)
      .attr("text-anchor", "middle").attr("dominant-baseline", "central")
      .attr("font-size", 14.5).text("Distance / nm");
  }
});
</script>
</body>
</html>
